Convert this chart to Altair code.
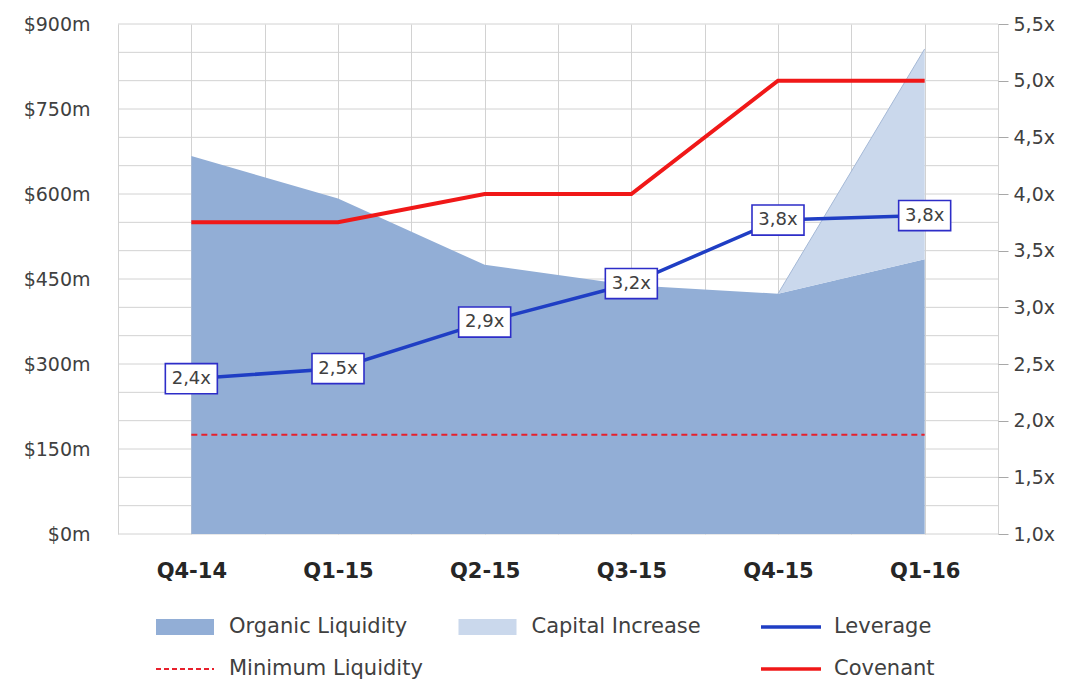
import json
import altair as alt
import pandas as pd

# ---- data ----
quarters = ["Q4-14", "Q1-15", "Q2-15", "Q3-15", "Q4-15", "Q1-16"]
organic_liquidity = [667, 592, 475, 439, 424, 485]          # $m, left axis
capital_increase = [None, None, None, None, 0, 371]          # $m, stacked on organic
leverage = [2.37, 2.46, 2.87, 3.21, 3.77, 3.81]              # x, right axis
covenant = [3.75, 3.75, 4.0, 4.0, 5.0, 5.0]                  # x, right axis
minimum_liquidity = [175, 175, 175, 175, 175, 175]           # $m, left axis

money_ticks = [0, 150, 300, 450, 600, 750, 900]
money_grid = [0, 50, 100, 150, 200, 250, 300, 350, 400, 450, 500, 550, 600,
              650, 700, 750, 800, 850, 900]
lev_ticks = [1.0, 1.5, 2.0, 2.5, 3.0, 3.5, 4.0, 4.5, 5.0, 5.5]
x_grid = [-0.5, 0, 0.5, 1, 1.5, 2, 2.5, 3, 3.5, 4, 4.5, 5, 5.5]

legend_items = ["Organic Liquidity", "Capital Increase", "Leverage",
                "Minimum Liquidity", "Covenant"]
legend_col = [0, 1, 2, 0, 2]
legend_row = [0, 0, 0, 1, 1]
legend_kind = ["area", "area", "line", "dash", "line"]

# ---- styles ----
FONT = "DejaVu Sans"
C_ORG = "#92aed6"
C_CAP = "#cad8ec"
C_CAP_EDGE = "#a4b8d6"
C_LEV = "#1f3ec4"
C_BOX = "#2d2dc8"
C_COV = "#f01818"
C_MIN = "#e8202c"
C_GRID = "#d2d2d2"
C_TEXT = "#404040"

df = pd.DataFrame({
    "idx": list(range(len(quarters))),
    "quarter": quarters,
    "organic": organic_liquidity,
    "capinc": capital_increase,
    "leverage": leverage,
    "covenant": covenant,
    "minliq": minimum_liquidity,
})
df["total"] = [o + c if c is not None else None for o, c in zip(organic_liquidity, capital_increase)]

grid_df = pd.DataFrame({"g": money_grid})

label_expr_x = ("datum.value % 1 === 0 ? " + json.dumps(quarters) + "[datum.value] : ''")

x_enc = alt.X("idx:Q",
              scale=alt.Scale(domain=[-0.5, 5.5], nice=False, zero=False),
              axis=alt.Axis(values=x_grid, labelExpr=label_expr_x, grid=True,
                            gridColor=C_GRID, gridWidth=1, ticks=False, domain=False,
                            labelFont=FONT, labelFontSize=21, labelFontWeight="bold",
                            labelColor="#262626", labelPadding=26, labelOverlap=False,
                            labelFlush=False, labelBound=False),
              title=None)

left_scale = alt.Scale(domain=[0, 900], nice=False, zero=True)
left_axis = alt.Axis(orient="left", values=money_ticks,
                     labelExpr="'$' + datum.value + 'm'", grid=False, ticks=False,
                     domain=False, labelFont=FONT, labelFontSize=19,
                     labelColor=C_TEXT, labelPadding=28)

right_scale = alt.Scale(domain=[1.0, 5.5], nice=False, zero=False)
right_axis = alt.Axis(orient="right", values=lev_ticks,
                      labelExpr="replace(format(datum.value, '.1f'), '.', ',') + 'x'",
                      grid=False, ticks=True, tickSize=10, tickColor="#a8a8a8",
                      domain=False, labelFont=FONT, labelFontSize=19,
                      labelColor=C_TEXT, labelPadding=5)

hgrid = alt.Chart(grid_df).mark_rule(color=C_GRID, strokeWidth=1).encode(
    y=alt.Y("g:Q", scale=left_scale, axis=left_axis, title=None))

base = alt.Chart(df)

org_area = base.mark_area(color=C_ORG, opacity=1).encode(
    x=x_enc, y=alt.Y("organic:Q", scale=left_scale, axis=left_axis, title=None))

cap_area = base.transform_filter("isValid(datum.total)").mark_area(
    color=C_CAP, opacity=1).encode(
    x=x_enc,
    y=alt.Y("total:Q", scale=left_scale, axis=left_axis, title=None),
    y2="organic:Q")

cap_edge = base.transform_filter("isValid(datum.total)").mark_line(
    color=C_CAP_EDGE, strokeWidth=1).encode(
    x=x_enc, y=alt.Y("total:Q", scale=left_scale, axis=left_axis, title=None))

min_line = base.mark_line(color=C_MIN, strokeWidth=2, strokeDash=[6, 4]).encode(
    x=x_enc, y=alt.Y("minliq:Q", scale=left_scale, axis=left_axis, title=None))

left_layer = alt.layer(hgrid, org_area, cap_area, cap_edge, min_line)

cov_line = base.mark_line(color=C_COV, strokeWidth=4).encode(
    x=x_enc, y=alt.Y("covenant:Q", scale=right_scale, axis=right_axis, title=None))

lev_line = base.mark_line(color=C_LEV, strokeWidth=3.5).encode(
    x=x_enc, y=alt.Y("leverage:Q", scale=right_scale, axis=right_axis, title=None))

box_path = "M-1,-0.58H1V0.58H-1Z"
lev_box = base.mark_point(shape=box_path, size=2704, filled=True, fill="white",
                          stroke=C_BOX, strokeWidth=1.6, opacity=1,
                          fillOpacity=1, strokeOpacity=1).encode(
    x=x_enc, y=alt.Y("leverage:Q", scale=right_scale, axis=right_axis, title=None))

lev_text = base.transform_calculate(
    lab="replace(format(datum.leverage, '.1f'), '.', ',') + 'x'"
).mark_text(font=FONT, fontSize=18, color=C_TEXT, baseline="middle", align="center").encode(
    x=x_enc, y=alt.Y("leverage:Q", scale=right_scale, axis=right_axis, title=None),
    text="lab:N")

right_layer = alt.layer(cov_line, lev_line, lev_box, lev_text)

main = alt.layer(left_layer, right_layer).resolve_scale(y="independent").properties(
    width=880, height=510)

# ---- custom legend ----
leg = pd.DataFrame({"item": legend_items, "col": legend_col, "row": legend_row,
                    "kind": legend_kind})
lx = alt.X("col:Q", scale=alt.Scale(domain=[0, 2], range=[38, 643]), axis=None)
ly = alt.Y("row:Q", scale=alt.Scale(domain=[0, 1], range=[21, 63]), axis=None)
leg_color = alt.Color("item:N", scale=alt.Scale(
    domain=legend_items, range=[C_ORG, C_CAP, C_LEV, C_MIN, C_COV]), legend=None)
lb = alt.Chart(leg)
leg_rect = lb.transform_filter("datum.kind == 'area'").mark_rect(
    x2Offset=58, yOffset=-8, y2Offset=8).encode(x=lx, x2="col:Q", y=ly, y2="row:Q",
                                                 color=leg_color)
leg_line = lb.transform_filter("datum.kind == 'line'").mark_rule(
    x2Offset=60, strokeWidth=3.5).encode(x=lx, x2="col:Q", y=ly, color=leg_color)
leg_dash = lb.transform_filter("datum.kind == 'dash'").mark_rule(
    x2Offset=58, strokeWidth=2, strokeDash=[5, 3]).encode(x=lx, x2="col:Q", y=ly,
                                                         color=leg_color)
leg_text = lb.mark_text(align="left", baseline="middle", dx=73, font=FONT,
                        fontSize=21, color=C_TEXT).encode(x=lx, y=ly, text="item:N")
legend = alt.layer(leg_rect, leg_line, leg_dash, leg_text).properties(width=880, height=84)

chart = alt.vconcat(main, legend, spacing=25).properties(
    padding={"left": 15, "top": 7, "right": 5, "bottom": 0},
    background="white",
).configure_view(stroke=None)

chart.save("out.html", embed_options={"renderer": "svg", "actions": False})
